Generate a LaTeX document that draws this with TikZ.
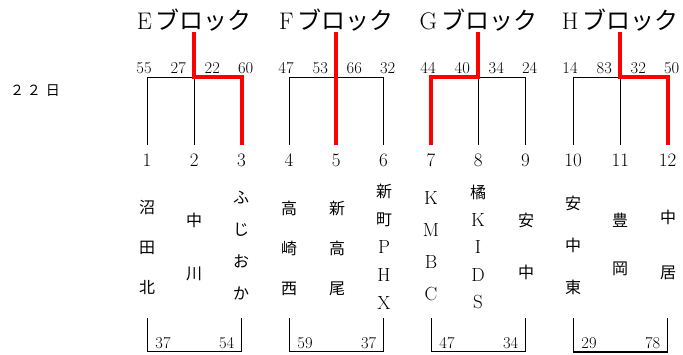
\documentclass[tikz,border=0pt]{standalone}
\usepackage{fontspec}
\newfontfamily\cjk{Noto Sans CJK JP}
\newcommand\lt[1]{{\rmfamily\fontsize{19}{19}\selectfont #1}}
\tikzset{
  win/.style={red, line width=3.8pt},
  title/.style={font=\fontsize{24}{24}\selectfont, inner sep=0pt},
  score/.style={font=\fontsize{16.5}{16.5}\selectfont, inner sep=0pt},
  num/.style={font=\fontsize{19}{19}\selectfont, inner sep=0pt},
  team/.style={align=center, inner sep=0pt, font=\cjk\fontsize{16}{#1}\selectfont},
  day/.style={font=\cjk\fontsize{14}{14}\selectfont, inner sep=0pt}
}
\begin{document}
\begin{tikzpicture}[x=1pt,y=-1pt]
   \useasboundingbox (0,0) rectangle (683,354);

   \node[day] (day) at (35,91) {２\hspace{3pt}２\hspace{5pt}日};

   \foreach \i in {1,...,12} {
      \pgfmathsetmacro\tx{147+142*floor((\i-1)/3)+47.3*mod(\i-1,3)}
      \coordinate (head\i) at (\tx,32);
      \coordinate (top\i) at (\tx,77);
      \coordinate (bot\i) at (\tx,145);
      \coordinate (low\i) at (\tx,318);
      \coordinate (base\i) at (\tx,351.5);
      \node[num] (n\i) at (\tx,160) {\i};
   }

   \foreach \a/\m/\c/\blk/\sa/\sb/\sc/\sd/\la/\lb in
      {1/2/3/E/55/27/22/60/37/54, 4/5/6/F/47/53/66/32/59/37,
       7/8/9/G/44/40/34/24/47/34, 10/11/12/H/14/83/32/50/29/78} {
      \node[title] (blk\blk) at ([yshift=12pt]head\m) {\blk\hspace{4pt}{\cjk ブロック}};
      \draw (bot\a) -- (top\a) -- (top\c) -- (bot\c);
      \draw (top\m) -- (bot\m);
      \node[score] (s\a) at ([xshift=-3pt,yshift=9pt]top\a) {\sa};
      \node[score] (s\m l) at ([xshift=-16pt,yshift=9pt]top\m) {\sb};
      \node[score] (s\m r) at ([xshift=18pt,yshift=9pt]top\m) {\sc};
      \node[score] (s\c) at ([xshift=4pt,yshift=9pt]top\c) {\sd};
      \draw (low\a) -- (base\a) -- (base\c) -- (low\c);
      \node[score] (r\a) at ([xshift=16pt,yshift=8.5pt]base\a) {\la};
      \node[score] (r\c) at ([xshift=-15pt,yshift=8.5pt]base\c) {\lb};
   }
   \draw[line width=2pt] (base10) -- (base12);

   \node[team=40] (name1) at (147,247) {沼\\田\\北};
   \node[team=53] (name2) at (194,247) {中\\川};
   \node[team=32] (name3) at (241,246) {ふ\\じ\\お\\か};
   \node[team=40] (name4) at (289,248) {高\\崎\\西};
   \node[team=40] (name5) at (337,248) {新\\高\\尾};
   \node[team=28] (name6) at (384,247) {新\\町\\\lt{P}\\\lt{H}\\\lt{X}};
   \node[team=32] (name7) at (431,246) {\lt{K}\\\lt{M}\\\lt{B}\\\lt{C}};
   \node[team=27.5] (name8) at (478,247) {橘\\\lt{K}\\\lt{I}\\\lt{D}\\\lt{S}};
   \node[team=52] (name9) at (526,246) {安\\中};
   \node[team=42] (name10) at (573,245) {安\\中\\東};
   \node[team=48] (name11) at (620,244) {豊\\岡};
   \node[team=55] (name12) at (668,245) {中\\居};

   \draw[win] (head2) -- (top2) -- (top3) -- (bot3);
   \draw[win] (head5) -- (bot5);
   \draw[win] (head8) -- (top8) -- (top7) -- (bot7);
   \draw[win] (head11) -- (top11) -- (top12) -- (bot12);

\end{tikzpicture}
\end{document}
